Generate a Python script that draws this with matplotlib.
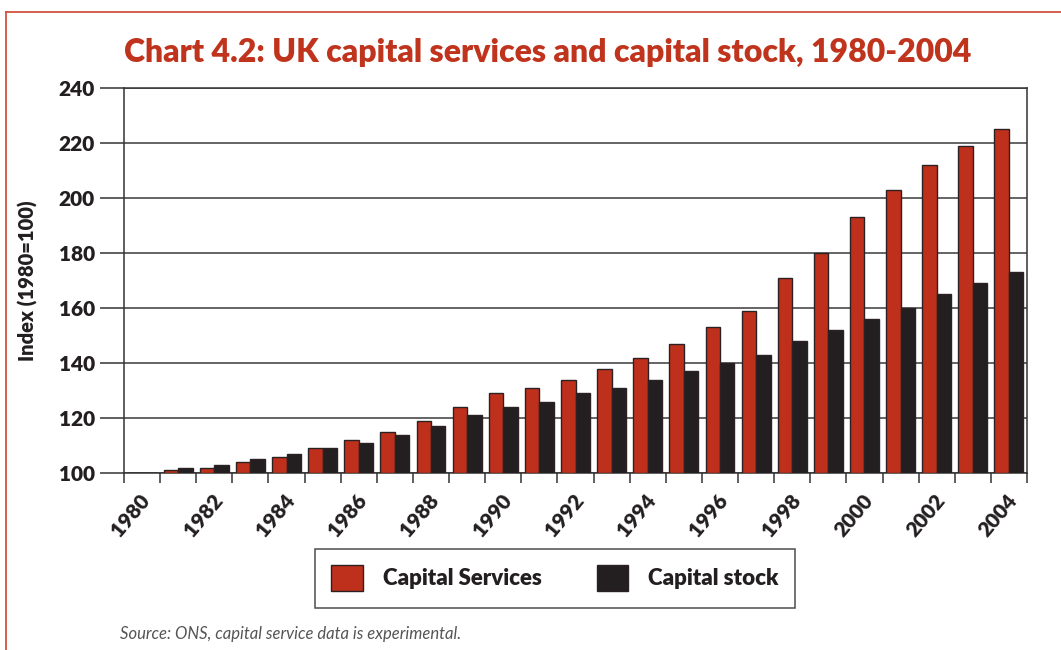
import numpy as np
import matplotlib
matplotlib.use("Agg")
import matplotlib.pyplot as plt
import matplotlib.transforms as mtransforms
from matplotlib.patches import Rectangle
from matplotlib.lines import Line2D

plt.rcParams['font.family'] = ['Lato', 'DejaVu Sans']

years = list(range(1980, 2005))
capital_services = [100, 101, 102, 104, 106, 109, 112, 115, 119, 124, 129, 131, 134,
                    138, 142, 147, 153, 159, 171, 180, 193, 203, 212, 219, 225]
capital_stock = [100, 102, 103, 105, 107, 109, 111, 114, 117, 121, 124, 126, 129,
                 131, 134, 137, 140, 143, 148, 152, 156, 160, 165, 169, 173]
y_ticks = [100, 120, 140, 160, 180, 200, 220, 240]

RED = '#bf301c'
BLACK = '#231f20'
EDGE = '#2b2122'
HEAVY = 'heavy'

fig = plt.figure(figsize=(10.61, 6.5), dpi=100)
ax = fig.add_axes([124/1061, 1-473/650, 903/1061, 385/650])

x = np.arange(len(years))
w = 0.4
base = 100
ax.bar(x - w/2, np.array(capital_services) - base, w, bottom=base, color=RED,
       edgecolor=EDGE, linewidth=1.0, zorder=3, label='Capital Services')
ax.bar(x + w/2, np.array(capital_stock) - base, w, bottom=base, color=BLACK,
       edgecolor=EDGE, linewidth=1.0, zorder=3, label='Capital stock')

ax.set_xlim(-0.5, len(years) - 0.5)
ax.set_ylim(100, 240)
ax.set_yticks(y_ticks)
ax.set_yticklabels([str(v) for v in y_ticks], fontsize=15, fontweight=HEAVY,
                   color='#231f20')
ax.yaxis.grid(True, color='#4a4a4a', linewidth=1.2, zorder=0)
ax.tick_params(axis='y', length=17, width=1.1, color='#333333', pad=4)

# year labels sit on the category boundaries, every other one labelled
bounds = np.arange(len(years) + 1) - 0.5
ax.set_xticks(bounds, minor=True)
ax.set_xticks(bounds[::2][:13])
ax.set_xticklabels([str(y) for y in years[::2]], rotation=50, ha='center',
                   fontsize=15, fontweight=HEAVY, color='#231f20')
ax.tick_params(axis='x', which='both', length=7, width=1.1, color='#333333')
ax.tick_params(axis='x', which='major', pad=6)
shift = mtransforms.ScaledTranslation(7/100, 0, fig.dpi_scale_trans)
for lbl in ax.get_xticklabels():
    lbl.set_transform(lbl.get_transform() + shift)

for s in ax.spines.values():
    s.set_color('#333333')
    s.set_linewidth(1.1)

ax.set_ylabel('Index (1980=100)', fontsize=14.5, fontweight=HEAVY,
              color='#231f20')
ax.yaxis.set_label_coords(-0.095, 0.5)

fig.text(0.5165, 0.920, 'Chart 4.2: UK capital services and capital stock, 1980-2004',
         ha='center', va='center', fontsize=23, fontweight=HEAVY, color='#c0341d')

# legend box
handles = [Rectangle((0, 0), 1, 1, facecolor=RED, edgecolor=EDGE, linewidth=1),
           Rectangle((0, 0), 1, 1, facecolor=BLACK, edgecolor=EDGE, linewidth=1)]
leg = fig.legend(handles, ['Capital Services', 'Capital stock'], ncol=2,
                 loc='center', bbox_to_anchor=(555/1061, 1-578/650),
                 frameon=True, fancybox=False, edgecolor='#231f20',
                 prop={'size': 16, 'weight': HEAVY}, handlelength=1.4,
                 handleheight=1.4, columnspacing=2.5, handletextpad=0.9,
                 borderpad=0.75)
leg.get_frame().set_linewidth(1.1)
for t in leg.get_texts():
    t.set_color('#231f20')

fig.text(120/1061, 1-634/650, 'Source: ONS, capital service data is experimental.',
         ha='left', va='center', fontsize=12, style='italic', color='#555555')

# red page frame
fig.add_artist(Line2D([6/1061, 6/1061], [0, 1-12/650], transform=fig.transFigure,
                      color='#d0533f', linewidth=1.3))
fig.add_artist(Line2D([6/1061, 1], [1-12/650, 1-12/650], transform=fig.transFigure,
                      color='#d0533f', linewidth=1.3))

fig.savefig('out.png', dpi=100)
